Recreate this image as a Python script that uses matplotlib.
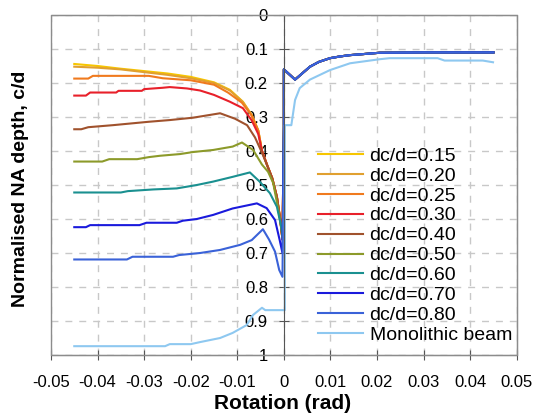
import matplotlib.pyplot as plt
from matplotlib.patches import Rectangle
from matplotlib.ticker import FuncFormatter
import numpy as np

plt.rcParams["font.family"] = ["Liberation Sans", "DejaVu Sans"]

# NA depth ratio c/d against rotation (rad), one curve per dc/d ratio
labels = ["dc/d=0.15", "dc/d=0.20", "dc/d=0.25", "dc/d=0.30", "dc/d=0.40",
          "dc/d=0.50", "dc/d=0.60", "dc/d=0.70", "dc/d=0.80", "Monolithic beam"]
colors = ["#f7c600", "#e0a030", "#f07a1e", "#e8202a", "#a0522d",
          "#8c9a2a", "#1a9090", "#1a1adc", "#3a62d8", "#8ec8f0"]

# descent shared by the shallow curves close to zero rotation
x_tail = [-0.0035, -0.0025, -0.0015, -0.0008, -0.0003]
y_tail = [0.445, 0.48, 0.535, 0.6, 0.66]

# positive rotation branch, identical for every dc/d ratio
x_pos = [0.0, 0.0, 0.0024, 0.0056, 0.0075, 0.0099, 0.012, 0.0142, 0.017, 0.0206, 0.03, 0.045]
y_pos = [0.33, 0.16, 0.19, 0.152, 0.138, 0.127, 0.122, 0.118, 0.115, 0.111, 0.11, 0.11]

x_015 = [-0.045, -0.04, -0.035, -0.03, -0.025, -0.02, -0.015, -0.0116, -0.0088, -0.0069, -0.0055, -0.0047]
y_015 = [0.144, 0.15, 0.158, 0.165, 0.172, 0.182, 0.198, 0.22, 0.255, 0.294, 0.34, 0.4]

x_020 = [-0.045, -0.04, -0.035, -0.03, -0.025, -0.02, -0.015, -0.0116, -0.0088, -0.0069, -0.0055, -0.0047]
y_020 = [0.152, 0.155, 0.16, 0.168, 0.176, 0.186, 0.2, 0.222, 0.256, 0.295, 0.34, 0.4]

x_025 = [-0.045, -0.042, -0.041, -0.029, -0.026, -0.02, -0.015, -0.012, -0.009, -0.0069, -0.0055, -0.0047]
y_025 = [0.187, 0.187, 0.179, 0.179, 0.186, 0.192, 0.205, 0.228, 0.258, 0.296, 0.34, 0.4]

x_030 = [-0.045, -0.0425, -0.0416, -0.036, -0.0355, -0.0305, -0.03, -0.026, -0.0245, -0.0208,
         -0.018, -0.015, -0.0116, -0.0088, -0.0069, -0.0055, -0.0047]
y_030 = [0.237, 0.237, 0.228, 0.228, 0.223, 0.223, 0.218, 0.214, 0.212, 0.216,
         0.222, 0.235, 0.255, 0.274, 0.31, 0.35, 0.4]

x_040 = [-0.045, -0.0435, -0.042, -0.0367, -0.029, -0.0245, -0.0195, -0.0137, -0.0105, -0.0079, -0.0062, -0.0047]
y_040 = [0.336, 0.336, 0.33, 0.324, 0.314, 0.309, 0.302, 0.289, 0.305, 0.324, 0.36, 0.405]

x_050 = [-0.045, -0.039, -0.0375, -0.0315, -0.029, -0.0266, -0.0223, -0.0195, -0.0152, -0.011, -0.009,
         -0.0066, -0.0047, -0.0034, -0.0023, -0.0013, -0.0006, -0.0002]
y_050 = [0.431, 0.431, 0.424, 0.424, 0.418, 0.414, 0.409, 0.403, 0.397, 0.387, 0.375,
         0.397, 0.44, 0.461, 0.494, 0.565, 0.62, 0.66]

x_060 = [-0.045, -0.035, -0.0335, -0.028, -0.023, -0.0187, -0.0152, -0.011, -0.0073,
         -0.0052, -0.003, -0.0015, -0.0006, -0.0002]
y_060 = [0.522, 0.522, 0.518, 0.513, 0.51, 0.5, 0.49, 0.476, 0.463,
         0.49, 0.524, 0.564, 0.62, 0.66]

x_070 = [-0.045, -0.0425, -0.0416, -0.031, -0.0295, -0.023, -0.0217, -0.0187, -0.0152, -0.011,
         -0.0058, -0.0037, -0.0019, -0.0009, -0.0003]
y_070 = [0.624, 0.624, 0.618, 0.618, 0.611, 0.611, 0.605, 0.6, 0.588, 0.569,
         0.554, 0.568, 0.603, 0.662, 0.7]

x_080 = [-0.045, -0.0337, -0.0325, -0.0238, -0.0225, -0.018, -0.0137, -0.0094, -0.0069,
         -0.0045, -0.0032, -0.0019, -0.001, -0.0003]
y_080 = [0.719, 0.719, 0.711, 0.711, 0.706, 0.7, 0.691, 0.676, 0.662,
         0.63, 0.66, 0.696, 0.75, 0.77]

x_mono = [-0.045, -0.0255, -0.0245, -0.02, -0.018, -0.0137, -0.011, -0.008, -0.0066, -0.0047, -0.004,
          -0.0008, 0.0002, 0.0002, 0.0016, 0.0024, 0.0034, 0.0056, 0.0099, 0.0142, 0.0206,
          0.0227, 0.033, 0.0345, 0.0427, 0.0449]
y_mono = [0.974, 0.974, 0.968, 0.968, 0.962, 0.95, 0.935, 0.912, 0.882, 0.861, 0.868,
          0.868, 0.868, 0.324, 0.324, 0.25, 0.215, 0.19, 0.162, 0.142, 0.13,
          0.127, 0.127, 0.134, 0.134, 0.139]

curves = [
    (x_015 + x_tail + x_pos, y_015 + y_tail + y_pos),
    (x_020 + x_tail + x_pos, y_020 + y_tail + y_pos),
    (x_025 + x_tail + x_pos, y_025 + y_tail + y_pos),
    (x_030 + x_tail + x_pos, y_030 + y_tail + y_pos),
    (x_040 + x_tail + x_pos, y_040 + y_tail + y_pos),
    (x_050 + x_pos, y_050 + y_pos),
    (x_060 + x_pos, y_060 + y_pos),
    (x_070 + x_pos, y_070 + y_pos),
    (x_080 + x_pos, y_080 + y_pos),
    (x_mono, y_mono),
]

fig = plt.figure(figsize=(5.4, 4.19), dpi=100)
ax = fig.add_axes([0.0944, 0.1527, 0.8626, 0.8115])

for (xs, ys), lab, col in zip(curves, labels, colors):
    ax.plot(xs, ys, color=col, lw=1.5, label=lab)

ax.set_xlim(-0.05, 0.05)
ax.set_ylim(1, 0)
ax.set_xticks(np.arange(-0.05, 0.0501, 0.01))
ax.set_yticks(np.arange(0, 1.001, 0.1))
fmt = FuncFormatter(lambda v, pos: "%g" % round(v, 3))
ax.xaxis.set_major_formatter(fmt)
ax.yaxis.set_major_formatter(fmt)

ax.grid(True, color="#c8c8c8", linestyle=(0, (5, 5)), lw=1)

# y axis runs through zero rotation; keep a light box round the plot
ax.spines["left"].set_position(("data", 0))
ax.spines["left"].set_color("#555555")
ax.spines["bottom"].set_color("#555555")
for s in ["top", "right"]:
    ax.spines[s].set_color("#8c8c8c")
ax.add_patch(Rectangle((0, 0), 1, 1, transform=ax.transAxes, fill=False,
                       ec="#8c8c8c", lw=1, zorder=3, clip_on=False))

ax.tick_params(axis="both", direction="inout", length=7, color="#555555", labelsize=12)
ax.tick_params(axis="x", pad=11)
ax.tick_params(axis="y", pad=8)

ax.set_xlabel("Rotation (rad)", fontsize=15, fontweight="bold")
ax.set_ylabel("Normalised NA depth, c/d", fontsize=14, fontweight="bold")
ax.xaxis.set_label_coords(0.497, -0.115)
ax.yaxis.set_label_coords(-0.048, 0.49)

ax.legend(loc="upper left", bbox_to_anchor=(318 / 540, 1 - 147 / 419),
          bbox_transform=fig.transFigure, frameon=False, fontsize=14,
          borderpad=0, borderaxespad=0, labelspacing=0.12,
          handlelength=2.3, handletextpad=0.35)

fig.savefig("out.png", dpi=100)
